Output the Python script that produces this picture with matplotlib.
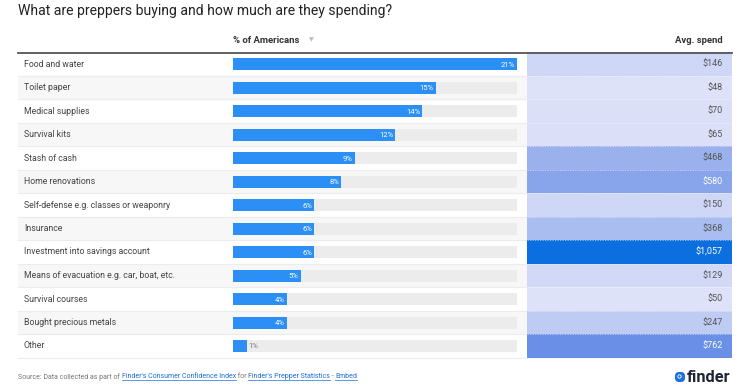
import matplotlib
matplotlib.use("Agg")
import matplotlib.pyplot as plt
from matplotlib.colors import LinearSegmentedColormap, Normalize
from matplotlib.patches import Rectangle, FancyBboxPatch

plt.rcParams['font.family'] = ['Roboto', 'DejaVu Sans']

# data
categorias = ["Food and water", "Toilet paper", "Medical supplies", "Survival kits",
              "Stash of cash", "Home renovations", "Self-defense e.g. classes or weaponry",
              "Insurance", "Investment into savings account",
              "Means of evacuation e.g. car, boat, etc.", "Survival courses",
              "Bought precious metals", "Other"]
porcentaje = [21, 15, 14, 12, 9, 8, 6, 6, 6, 5, 4, 4, 1]
gasto = [146, 48, 70, 65, 468, 580, 150, 368, 1057, 129, 50, 247, 762]
gasto_txt = ["$146", "$48", "$70", "$65", "$468", "$580", "$150", "$368", "$1,057",
             "$129", "$50", "$247", "$762"]

W, H = 740, 392
fig = plt.figure(figsize=(W / 100, H / 100), dpi=100)
ax = fig.add_axes([0, 0, 1, 1])
ax.set_xlim(0, W)
ax.set_ylim(H, 0)
ax.axis('off')

# layout
x_izq, x_der = 18, 732
x_barra, ancho_barra = 233, 284
x_gasto = 527
y0, alto = 64, 23.5
escala = ancho_barra / max(porcentaje)

cmap = LinearSegmentedColormap.from_list(
    "gasto", [(0, "#dee2f8"), (0.708, "#6a8fe6"), (1, "#0b6fe0")])
norm = Normalize(min(gasto), max(gasto))

# titulo
ax.text(x_izq, 11, "What are preppers buying and how much are they spending?",
        fontsize=10.1, color="#222222", va='center', ha='left')

# cabecera
ax.text(x_barra, 40, "% of Americans", fontsize=6.8, fontweight='bold',
        color="#333333", va='center', ha='left')
ax.text(309, 40, "▼", fontsize=4.5, color="#bbbbbb", va='center', ha='left',
        family=['DejaVu Sans'])
ax.text(723, 40, "Avg. spend", fontsize=6.8, fontweight='bold',
        color="#333333", va='center', ha='right')

n = len(categorias)
ys = [y0 + i * alto for i in range(n)]

for i, y in enumerate(ys):
    top = y - alto / 2
    if i % 2 == 1:
        ax.add_patch(Rectangle((x_izq, top), x_gasto - x_izq, alto,
                               facecolor="#f7f7f7", edgecolor='none', zorder=0))
    ax.plot([x_izq, x_gasto], [top + alto, top + alto], color="#ececec", lw=0.8, zorder=1)
    # pista gris
    ax.add_patch(Rectangle((x_barra, y - 6), ancho_barra, 12,
                           facecolor="#ececec", edgecolor='none', zorder=1))
    # celda de gasto
    ax.add_patch(Rectangle((x_gasto, top), x_der - x_gasto, alto,
                           facecolor=cmap(norm(gasto[i])), edgecolor='none', zorder=1))
    if i > 0:
        ax.plot([x_gasto, x_der], [top, top], color="white", lw=0.6,
                ls=(0, (1.5, 1.5)), alpha=0.6, zorder=2)
    ax.text(24, y, categorias[i], fontsize=6.3, color="#444444", va='center', ha='left')

ax.barh(ys, [p * escala for p in porcentaje], left=x_barra, height=12,
        color="#2b8ff5", zorder=2)

for i, y in enumerate(ys):
    fin = x_barra + porcentaje[i] * escala
    if porcentaje[i] >= 3:
        ax.text(fin - 2, y + 0.5, f"{porcentaje[i]}%", fontsize=5.5, color="white",
                va='center', ha='right', zorder=3)
    else:
        ax.text(fin + 2, y + 0.5, f"{porcentaje[i]}%", fontsize=5.5, color="#777777",
                va='center', ha='left', zorder=3)
    col = "white" if gasto[i] >= 500 else "#555555"
    ax.text(723, y, gasto_txt[i], fontsize=6.5, color=col, va='center', ha='right', zorder=3)

# linea de cabecera
ax.plot([x_izq, x_der], [52.5, 52.5], color="#555555", lw=1.3, zorder=4)

# pie
partes = [("Source: Data collected as part of ", "#777777", False),
          ("Finder's Consumer Confidence Index", "#1a6fd6", True),
          (" for ", "#777777", False),
          ("Finder's Prepper Statistics", "#1a6fd6", True),
          (" - ", "#777777", False),
          ("Embed", "#1a6fd6", True)]
prev = None
textos = []
for s, c, link in partes:
    if prev is None:
        t = ax.text(x_izq, 377, s, fontsize=5.0, color=c, va='center', ha='left')
    else:
        t = ax.annotate(s, xy=(1, 0.5), xycoords=prev, fontsize=5.0, color=c,
                        va='center', ha='left')
    textos.append((t, link))
    prev = t

fig.canvas.draw()
r = fig.canvas.get_renderer()
inv = ax.transData.inverted()
for t, link in textos:
    if link:
        bb = t.get_window_extent(r)
        (xa, ya), (xb, yb) = inv.transform([(bb.x0, bb.y0), (bb.x1, bb.y0)])
        ax.plot([xa, xb], [ya - 0.3, yb - 0.3], color="#1a6fd6", lw=0.5)

# logo finder
ax.add_patch(FancyBboxPatch((675, 372), 10, 10, boxstyle="round,pad=0,rounding_size=4",
                            facecolor="#1f6fe0", edgecolor='none'))
ax.plot([679.3], [376.3], marker='o', ms=2.4, mfc='none', mec='white', mew=0.6)
ax.text(687, 377.5, "finder", fontsize=11.8, fontweight='bold', color="#1d2433",
        va='center', ha='left')

fig.savefig("out.png", dpi=100)
